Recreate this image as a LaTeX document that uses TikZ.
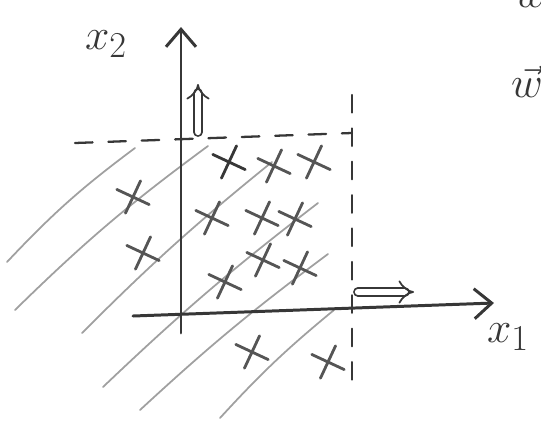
\documentclass[tikz,border=0pt]{standalone}
\usepackage{tikz}
\usetikzlibrary{arrows.meta, positioning, shapes.misc}
\definecolor{penGray}{RGB}{55, 55, 55}
\definecolor{hatchGray}{RGB}{160, 160, 160}
\definecolor{crossGray}{RGB}{85, 85, 85}

\begin{document}
\begin{tikzpicture}[x=0.02cm, y=-0.02cm, line cap=round,
    every node/.style={penGray, font=\fontsize{30}{32}\selectfont},
    axis/.style={line width=1.7pt, penGray, -{Straight Barb[length=3.5mm, width=6mm]}},
    hatch/.style={line width=1pt, hatchGray},
    bound/.style={line width=1.3pt, penGray, dash pattern=on 10pt off 9pt},
    pt/.style={cross out, draw=crossGray, line width=1.6pt, minimum size=0.45cm, inner sep=0pt, rotate=20},
    move/.style={double, double distance=3.6pt, line width=1pt, penGray, -{Implies}}]
    \useasboundingbox (0,0) rectangle (541,427);
    \clip (0,0) rectangle (541,427);

    % hatched half plane
    \draw[hatch] (7,262) to[bend left=5] (135,148);
    \draw[hatch] (15,310) to[bend left=4] (208,146);
    \draw[hatch] (82,333) to[bend left=3] (272,162);
    \draw[hatch] (103,387) to[bend left=3] (318,203);
    \draw[hatch] (140,410) to[bend left=3] (328,254);
    \draw[hatch] (220,418) to[bend left=4] (334,310);

    % axes
    \coordinate (yb) at (181,333);
    \coordinate (yt) at (181,27);
    \coordinate (xl) at (133,316);
    \coordinate (xr) at (494,303);
    \draw[axis] (yb) -- (yt);
    \draw[axis] (xl) -- (xr);
    \node (lx2) at (106,44) {$x_2$};
    \node (lx1) at (508,337) {$x_1$};

    % box bounds
    \coordinate (hl) at (75,143);
    \coordinate (cr) at (352,133);
    \coordinate (vt) at (352,95);
    \coordinate (vb) at (352,395);
    \draw[bound] (hl) -- (cr);
    \draw[bound] (vt) -- (vb);
    \coordinate (ub) at (198,132);
    \coordinate (ut) at (198,84);
    \coordinate (rl) at (358,292);
    \coordinate (rr) at (414,292);
    \draw[move] (ub) -- (ut);
    \draw[move] (rl) -- (rr);

    % samples
    \node[pt, draw=penGray] (p1) at (229,162) {};
    \node[pt] (p2) at (274,166) {};
    \node[pt] (p3) at (314,162) {};
    \node[pt] (p4) at (212,218) {};
    \node[pt] (p5) at (262,218) {};
    \node[pt] (p6) at (295,219) {};
    \node[pt] (p7) at (225,282) {};
    \node[pt] (p8) at (263,260) {};
    \node[pt] (p9) at (300,268) {};
    \node[pt] (p10) at (133,197) {};
    \node[pt] (p11) at (143,253) {};
    \node[pt] (p12) at (252,352) {};
    \node[pt] (p13) at (328,362) {};

    % weight vector
    \node[anchor=south west] (lw) at (509,14) {$w$};
    \node[anchor=north west] (lvw) at (505,60) {$\vec{w}$};
\end{tikzpicture}
\end{document}
